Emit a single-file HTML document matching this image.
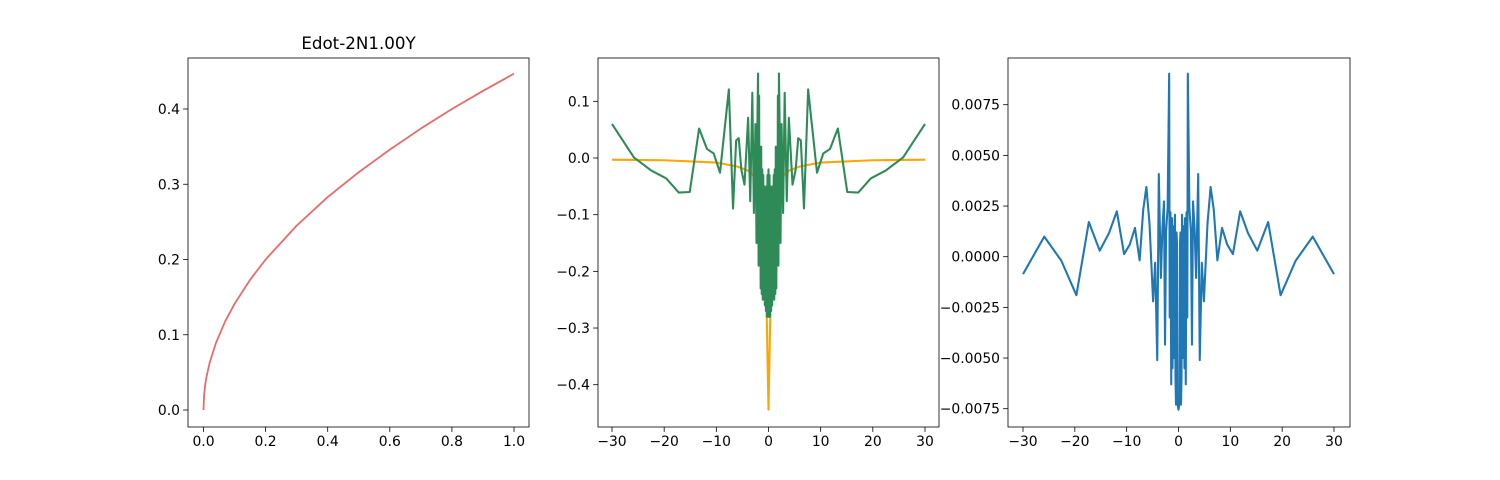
<!DOCTYPE html>
<html><head><meta charset="utf-8"><style>
html,body{margin:0;padding:0;background:#fff;}
svg{display:block;font-family:"DejaVu Sans","Liberation Sans",sans-serif;}
</style></head><body>
<svg id="fig" width="1500" height="480" viewBox="0 0 1500 480" xmlns="http://www.w3.org/2000/svg"></svg>
<script>
// ---- data ----
const leftX = [0,0.002,0.005,0.01,0.02,0.04,0.07,0.1,0.15,0.2,0.3,0.4,0.5,0.6,0.7,0.8,0.9,1.0];
const leftY = [0,0.020,0.032,0.045,0.063,0.089,0.118,0.141,0.173,0.200,0.245,0.283,0.316,0.346,0.374,0.400,0.424,0.447];

const midX = [-30,-25.8,-22.5,-19.6,-17.2,-15.1,-13.3,-11.8,-10.5,-9.3,-7.6,-6.8,-6.2,-5.7,-5.2,-4.6,-3.9,-3.5,-3.1,-2.8,-2.5,-2.3,-2.1,-2.0,-1.9,-1.8,-1.7,-1.6,-1.5,-1.4,-1.3,-1.2,-1.1,-1.0,-0.9,-0.8,-0.7,-0.6,-0.5,-0.4,-0.3,-0.2,-0.1,0,0.1,0.2,0.3,0.4,0.5,0.6,0.7,0.8,0.9,1.0,1.1,1.2,1.3,1.4,1.5,1.6,1.7,1.8,1.9,2.0,2.1,2.3,2.5,2.8,3.1,3.5,3.9,4.6,5.2,5.7,6.2,6.8,7.6,9.3,10.5,11.8,13.3,15.1,17.2,19.6,22.5,25.8,30];
const midGreen = [0.060,0.001,-0.022,-0.036,-0.061,-0.060,0.052,0.016,0.008,-0.026,0.121,-0.089,0.031,0.035,-0.021,-0.047,0.071,-0.076,0.115,-0.097,0.06,-0.15,0.085,0.149,-0.19,0.11,-0.18,0.0,-0.23,0.02,-0.24,-0.02,-0.25,-0.03,-0.23,-0.05,-0.26,-0.06,-0.27,-0.05,-0.28,-0.03,-0.28,-0.02,-0.28,-0.03,-0.28,-0.05,-0.27,-0.06,-0.26,-0.05,-0.23,-0.03,-0.25,-0.02,-0.24,0.02,-0.23,0.0,-0.18,0.11,-0.19,0.149,0.085,-0.15,0.06,-0.097,0.115,-0.076,0.071,-0.047,-0.021,0.035,0.031,-0.089,0.121,-0.026,0.008,0.016,0.052,-0.060,-0.061,-0.036,-0.022,0.001,0.060];
const orangeX = [-30,-20,-10,-6,-4,-3,-2,-1.5,-1,-0.5,0,0.5,1,1.5,2,3,4,6,10,20,30];
const orangeY = [-0.003,-0.004,-0.008,-0.015,-0.022,-0.03,-0.045,-0.06,-0.09,-0.2,-0.444,-0.2,-0.09,-0.06,-0.045,-0.03,-0.022,-0.015,-0.008,-0.004,-0.003];

const rightX = [-30,-25.9,-22.6,-19.7,-17.3,-15.2,-13.4,-11.9,-10.5,-9.4,-8.4,-7.5,-6.8,-6.2,-5.6,-4.9,-4.5,-4.1,-3.8,-3.4,-3.1,-2.8,-2.6,-2.4,-2.1,-1.8,-1.7,-1.55,-1.4,-1.25,-1.15,-1.06,-0.95,-0.87,-0.78,-0.68,-0.58,-0.48,-0.38,-0.29,-0.2,-0.1,0,0.1,0.2,0.29,0.38,0.48,0.58,0.68,0.78,0.87,0.95,1.06,1.15,1.25,1.4,1.55,1.7,1.8,2.1,2.4,2.6,2.8,3.1,3.4,3.8,4.1,4.5,4.9,5.6,6.2,6.8,7.5,8.4,9.4,10.5,11.9,13.4,15.2,17.3,19.7,22.6,25.9,30];
const rightY = [-0.00086,0.00099,-0.0002,-0.0019,0.00171,0.0003,0.00117,0.00224,0.00013,0.0006,0.00142,-0.00018,0.00232,0.00344,0.00166,-0.0022,-0.0003,-0.0051,0.00408,-0.00105,0.0014,0.00273,-0.00434,0.00125,0.0024,0.00903,-0.003,0.0022,-0.0063,0.0019,-0.0055,-0.0027,0.0015,-0.005,0.0008,0.00207,-0.006,-0.0073,0.0012,0.0006,-0.007,-0.0074,-0.00755,-0.0074,-0.007,0.0006,0.0012,-0.0073,-0.006,0.00207,0.0008,-0.005,0.0015,-0.0027,-0.0055,0.0019,-0.0063,0.0022,-0.003,0.00903,0.0024,0.00125,-0.00434,0.00273,0.0014,-0.00105,0.00408,-0.0051,-0.0003,-0.0022,0.00166,0.00344,0.00232,-0.00018,0.00142,0.0006,0.00013,0.00224,0.00117,0.0003,0.00171,-0.0019,-0.0002,0.00099,-0.00086];

const leftXTicks = [0.0,0.2,0.4,0.6,0.8,1.0];
const leftYTicks = [0.0,0.1,0.2,0.3,0.4];
const midXTicks = [-30,-20,-10,0,10,20,30];
const midYTicks = [0.1,0.0,-0.1,-0.2,-0.3,-0.4];
const rightXTicks = [-30,-20,-10,0,10,20,30];
const rightYTicks = [0.0075,0.005,0.0025,0,-0.0025,-0.005,-0.0075];

// ---- drawing ----
const NS = "http://www.w3.org/2000/svg";
const svg = document.getElementById('fig');
function el(tag, attrs, parent){ const e=document.createElementNS(NS,tag); for(const k in attrs) e.setAttribute(k,attrs[k]); (parent||svg).appendChild(e); return e; }
function lin(d0,d1,p0,p1){ return v => p0+(v-d0)*(p1-p0)/(d1-d0); }

function axes(name, box, xs, ys, xt, yt, xfmt, yfmt){
  const g = el('g',{});
  
  
  xt.forEach(t=>{
    const x=xs(t);
    const tk = el('line',{x1:x,x2:x,y1:box.b,y2:box.b+4.9,stroke:'#000','stroke-width':0.8},g);
    
    
    const tx = el('text',{x:x,y:box.b+19,'font-size':13.9,'text-anchor':'middle',fill:'#000'},g);
    tx.textContent = xfmt(t);
    
    
  });
  yt.forEach(t=>{
    const y=ys(t);
    const tk = el('line',{x1:box.l-4.9,x2:box.l,y1:y,y2:y,stroke:'#000','stroke-width':0.8},g);
    
    
    const tx = el('text',{x:box.l-8,y:y+5,'font-size':13.9,'text-anchor':'end',fill:'#000'},g);
    tx.textContent = yfmt(t);
    
    
  });
  return g;
}
function series(g, name, X, Y, xs, ys, color, w){
  const pts = X.map((x,i)=>xs(x).toFixed(2)+','+ys(Y[i]).toFixed(2)).join(' ');
  const p = el('polyline',{points:pts,fill:'none',stroke:color,'stroke-width':w||2.08,'stroke-linejoin':'round'},g);
  
  
}
function frame(g, box){
  const r = el('rect',{x:box.l,y:box.t,width:box.r-box.l,height:box.b-box.t,fill:'none',stroke:'#000','stroke-width':0.8},g);
  
  
}
const neg = s => s.replace('-','\u2212');

// Left
const bL={l:188,r:529,t:58,b:427};
const xL=lin(0,1,203.5,514), yL=lin(0,0.4,410,109);
const gL=axes('left-axes',bL,xL,yL,leftXTicks,leftYTicks,t=>t.toFixed(1),t=>t.toFixed(1));
series(gL,'sqrt-curve',leftX,leftY,xL,yL,'#e96a6a',1.8);
frame(gL,bL);
const title = el('text',{x:358.5,y:49,'font-size':16.7,'text-anchor':'middle',fill:'#000'});
title.textContent='Edot-2N1.00Y';



// Middle
const bM={l:598,r:939,t:58,b:427};
const xM=lin(-30,30,612,925), yM=lin(0,-0.4,158,384.7);
const gM=axes('middle-axes',bM,xM,yM,midXTicks,midYTicks,t=>neg(String(t)),t=>neg(t.toFixed(1)));
series(gM,'orange-series',orangeX,orangeY,xM,yM,'#ffa500');
series(gM,'green-series',midX,midGreen,xM,yM,'#2e8b57');
frame(gM,bM);

// Right
const bR={l:1008,r:1350,t:58,b:427};
const xR=lin(-30,30,1023,1334), yR=lin(0.0075,-0.0075,104.7,408.7);
const gR=axes('right-axes',bR,xR,yR,rightXTicks,rightYTicks,t=>neg(String(t)),t=>neg(t.toFixed(4)));
series(gR,'blue-series',rightX,rightY,xR,yR,'#1f77b4');
frame(gR,bR);
</script>
</body></html>
